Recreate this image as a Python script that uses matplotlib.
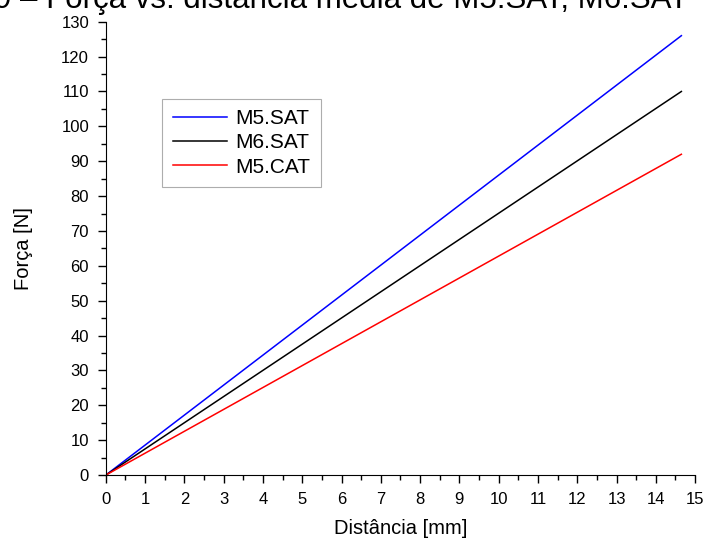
import matplotlib.pyplot as plt
from matplotlib.ticker import MultipleLocator

plt.rcParams['font.family'] = ['Liberation Sans', 'DejaVu Sans']

# dados (retas a partir da origem)
distancia = [0, 14.65]
forca_m5sat = [0, 126]
forca_m6sat = [0, 110]
forca_m5cat = [0, 92]

fig = plt.figure(figsize=(7.05, 5.43), dpi=100)
ax = fig.add_axes([0.15, 0.125, 0.836, 0.835])

ax.plot(distancia, forca_m5sat, color='#0000ff', lw=1.1, label='M5.SAT')
ax.plot(distancia, forca_m6sat, color='black', lw=1.1, label='M6.SAT')
ax.plot(distancia, forca_m5cat, color='#ff0000', lw=1.1, label='M5.CAT')

ax.set_xlim(0, 15)
ax.set_ylim(0, 130)
ax.xaxis.set_major_locator(MultipleLocator(1))
ax.xaxis.set_minor_locator(MultipleLocator(0.5))
ax.yaxis.set_major_locator(MultipleLocator(10))
ax.yaxis.set_minor_locator(MultipleLocator(5))
ax.spines['top'].set_visible(False)
ax.spines['right'].set_visible(False)
ax.tick_params(which='major', direction='out', length=6, width=1,
               labelsize=12, pad=6)
ax.tick_params(which='minor', direction='out', length=3.5, width=1)

ax.set_xlabel('Distância [mm]', fontsize=14.5, labelpad=9)
ax.set_ylabel('Força [N]', fontsize=14.5, labelpad=20)

leg = ax.legend(loc='upper left', bbox_to_anchor=(0.096, 0.83), fontsize=15,
                frameon=True, fancybox=False, handlelength=2.6,
                borderpad=0.5, labelspacing=0.25, handletextpad=0.4,
                borderaxespad=0)
leg.get_frame().set_edgecolor('#999999')
leg.get_frame().set_linewidth(0.8)

fig.text(-0.008, 1.0, '9 – Força vs. distância média de M5.SAT, M6.SAT',
         fontsize=22.5, ha='left', va='center')

fig.savefig('out.png', dpi=100)
